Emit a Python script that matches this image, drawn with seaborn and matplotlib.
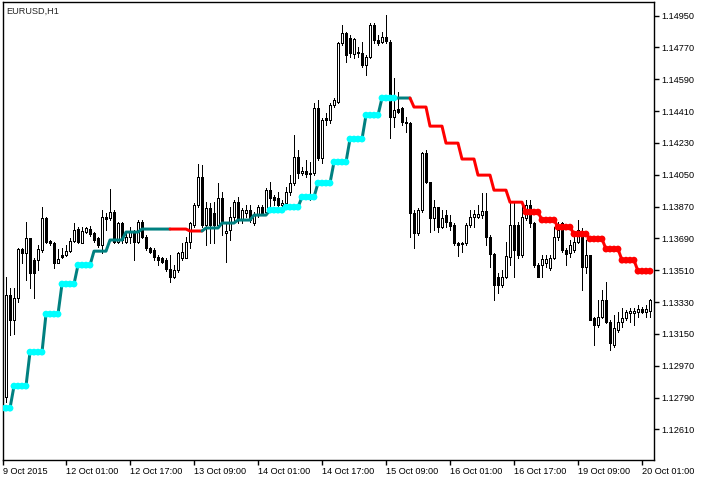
import numpy as np
import pandas as pd
import matplotlib
matplotlib.use("Agg")
import matplotlib.pyplot as plt
import seaborn as sns

# =========================
# Data (EURUSD H1)
# =========================
symbol = "EURUSD,H1"

open_ = [
    1.12849, 1.12793, 1.13370, 1.13228, 1.13353, 1.13630, 1.13607, 1.13692, 1.13568, 1.13568,
    1.13624, 1.13805, 1.13675, 1.13664, 1.13551, 1.13596, 1.13596, 1.13619, 1.13675, 1.13743,
    1.13664, 1.13726, 1.13743, 1.13720, 1.13692, 1.13652, 1.13811, 1.13805, 1.13839, 1.13670,
    1.13777, 1.13670, 1.13698, 1.13726, 1.13670, 1.13782, 1.13698, 1.13635, 1.13624, 1.13585,
    1.13579, 1.13568, 1.13517, 1.13472, 1.13511, 1.13579, 1.13579, 1.13670, 1.13766, 1.13879,
    1.14037, 1.13766, 1.13862, 1.13833, 1.13766, 1.13918, 1.13720, 1.13737, 1.13811, 1.13896,
    1.13794, 1.13833, 1.13850, 1.13777, 1.13822, 1.13867, 1.13839, 1.13964, 1.13924, 1.13918,
    1.13879, 1.13890, 1.13952, 1.14003, 1.14150, 1.14060, 1.14071, 1.14054, 1.14060, 1.14427,
    1.14145, 1.14371, 1.14359, 1.14444, 1.14461, 1.14795, 1.14851, 1.14823, 1.14733, 1.14744,
    1.14738, 1.14670, 1.14716, 1.14897, 1.14812, 1.14800, 1.14829, 1.14800, 1.14376, 1.14422,
    1.14427, 1.14348, 1.14342, 1.13833, 1.13720, 1.13850, 1.14173, 1.14009, 1.13805, 1.13867,
    1.13754, 1.13822, 1.13782, 1.13766, 1.13664, 1.13664, 1.13664, 1.13766, 1.13811, 1.13811,
    1.13822, 1.13845, 1.13698, 1.13602, 1.13472, 1.13426, 1.13472, 1.13585, 1.13766, 1.13766,
    1.13596, 1.13805, 1.13879, 1.13777, 1.13540, 1.13540, 1.13551, 1.13522, 1.13579, 1.13698,
    1.13777, 1.13624, 1.13607, 1.13624, 1.13670, 1.13732, 1.13528, 1.13596, 1.13240, 1.13200,
    1.13245, 1.13342, 1.13217, 1.13087, 1.13172, 1.13217, 1.13240, 1.13268, 1.13268, 1.13274,
    1.13291, 1.13274, 1.13279,
]
high = [
    1.12861, 1.13471, 1.13409, 1.13409, 1.13635, 1.13635, 1.13782, 1.13692, 1.13579, 1.13652,
    1.13867, 1.13811, 1.13681, 1.13670, 1.13630, 1.13635, 1.13652, 1.13692, 1.13777, 1.13754,
    1.13754, 1.13754, 1.13760, 1.13726, 1.13698, 1.13850, 1.13833, 1.13969, 1.13850, 1.13782,
    1.13782, 1.13720, 1.13754, 1.13737, 1.13794, 1.13794, 1.13709, 1.13641, 1.13635, 1.13596,
    1.13585, 1.13579, 1.13596, 1.13540, 1.13613, 1.13664, 1.13698, 1.13782, 1.13890, 1.14111,
    1.14105, 1.13896, 1.13890, 1.13896, 1.14003, 1.13952, 1.13777, 1.13867, 1.13907, 1.13924,
    1.13862, 1.13879, 1.13879, 1.13839, 1.13879, 1.13879, 1.13975, 1.14009, 1.13935, 1.13952,
    1.13907, 1.13981, 1.14048, 1.14274, 1.14190, 1.14094, 1.14133, 1.14122, 1.14456, 1.14473,
    1.14371, 1.14399, 1.14456, 1.14484, 1.14800, 1.14897, 1.14857, 1.14840, 1.14823, 1.14772,
    1.14800, 1.14727, 1.14908, 1.14908, 1.14840, 1.14857, 1.14953, 1.14812, 1.14597, 1.14518,
    1.14433, 1.14376, 1.14348, 1.13850, 1.13862, 1.14178, 1.14190, 1.14009, 1.13907, 1.13867,
    1.13850, 1.13850, 1.13822, 1.13777, 1.13670, 1.13670, 1.13777, 1.13850, 1.13850, 1.13879,
    1.13947, 1.13947, 1.13709, 1.13607, 1.13494, 1.13511, 1.13670, 1.13896, 1.13896, 1.13782,
    1.13890, 1.13907, 1.13907, 1.13782, 1.13551, 1.13596, 1.13596, 1.13596, 1.13754, 1.13782,
    1.13782, 1.13635, 1.13681, 1.13726, 1.13794, 1.13749, 1.13681, 1.13596, 1.13245, 1.13342,
    1.13398, 1.13443, 1.13228, 1.13257, 1.13274, 1.13296, 1.13285, 1.13296, 1.13296, 1.13313,
    1.13302, 1.13313, 1.13347,
]
low = [
    1.12787, 1.12765, 1.13144, 1.13149, 1.13331, 1.13551, 1.13455, 1.13409, 1.13353, 1.13511,
    1.13613, 1.13664, 1.13652, 1.13522, 1.13551, 1.13579, 1.13590, 1.13613, 1.13670, 1.13664,
    1.13664, 1.13720, 1.13703, 1.13670, 1.13641, 1.13607, 1.13737, 1.13794, 1.13664, 1.13664,
    1.13664, 1.13664, 1.13664, 1.13568, 1.13664, 1.13692, 1.13624, 1.13607, 1.13568, 1.13540,
    1.13551, 1.13506, 1.13443, 1.13466, 1.13500, 1.13568, 1.13579, 1.13635, 1.13754, 1.13867,
    1.13754, 1.13652, 1.13664, 1.13664, 1.13749, 1.13709, 1.13556, 1.13681, 1.13777, 1.13777,
    1.13777, 1.13811, 1.13782, 1.13766, 1.13811, 1.13822, 1.13833, 1.13850, 1.13879, 1.13867,
    1.13867, 1.13879, 1.13935, 1.13992, 1.14031, 1.14048, 1.14037, 1.13907, 1.14048, 1.14133,
    1.14116, 1.14331, 1.14342, 1.14433, 1.14456, 1.14784, 1.14687, 1.14716, 1.14710, 1.14716,
    1.14659, 1.14614, 1.14710, 1.14795, 1.14784, 1.14795, 1.14795, 1.14258, 1.14320, 1.14399,
    1.14331, 1.14291, 1.13698, 1.13635, 1.13709, 1.13839, 1.14003, 1.13726, 1.13737, 1.13726,
    1.13749, 1.13754, 1.13737, 1.13652, 1.13590, 1.13613, 1.13652, 1.13754, 1.13754, 1.13805,
    1.13805, 1.13652, 1.13528, 1.13342, 1.13381, 1.13415, 1.13466, 1.13540, 1.13472, 1.13579,
    1.13585, 1.13794, 1.13754, 1.13528, 1.13472, 1.13472, 1.13528, 1.13511, 1.13573, 1.13681,
    1.13613, 1.13540, 1.13585, 1.13613, 1.13664, 1.13398, 1.13494, 1.13228, 1.13087, 1.13189,
    1.13240, 1.13211, 1.13059, 1.13076, 1.13160, 1.13189, 1.13228, 1.13217, 1.13200, 1.13245,
    1.13268, 1.13245, 1.13245,
]
close = [
    1.12793, 1.13370, 1.13228, 1.13353, 1.13630, 1.13607, 1.13692, 1.13494, 1.13494, 1.13630,
    1.13805, 1.13670, 1.13664, 1.13551, 1.13573, 1.13585, 1.13619, 1.13675, 1.13737, 1.13670,
    1.13732, 1.13749, 1.13715, 1.13681, 1.13652, 1.13811, 1.13800, 1.13839, 1.13670, 1.13777,
    1.13681, 1.13698, 1.13726, 1.13670, 1.13782, 1.13698, 1.13635, 1.13613, 1.13585, 1.13568,
    1.13556, 1.13517, 1.13472, 1.13511, 1.13607, 1.13613, 1.13670, 1.13777, 1.13879, 1.14037,
    1.13766, 1.13862, 1.13766, 1.13766, 1.13918, 1.13777, 1.13732, 1.13811, 1.13896, 1.13794,
    1.13850, 1.13850, 1.13794, 1.13822, 1.13867, 1.13833, 1.13964, 1.13918, 1.13907, 1.13879,
    1.13890, 1.13952, 1.14003, 1.14150, 1.14060, 1.14071, 1.14054, 1.14060, 1.14427, 1.14145,
    1.14359, 1.14359, 1.14444, 1.14473, 1.14795, 1.14851, 1.14727, 1.14738, 1.14817, 1.14738,
    1.14670, 1.14716, 1.14897, 1.14812, 1.14795, 1.14829, 1.14806, 1.14376, 1.14416, 1.14405,
    1.14348, 1.14342, 1.13833, 1.13720, 1.13850, 1.14173, 1.14009, 1.13805, 1.13867, 1.13754,
    1.13805, 1.13782, 1.13760, 1.13664, 1.13652, 1.13658, 1.13766, 1.13811, 1.13828, 1.13828,
    1.13845, 1.13698, 1.13602, 1.13426, 1.13426, 1.13472, 1.13590, 1.13766, 1.13624, 1.13596,
    1.13811, 1.13879, 1.13777, 1.13540, 1.13472, 1.13573, 1.13573, 1.13579, 1.13698, 1.13737,
    1.13624, 1.13602, 1.13652, 1.13670, 1.13737, 1.13528, 1.13596, 1.13228, 1.13200, 1.13245,
    1.13342, 1.13217, 1.13098, 1.13183, 1.13217, 1.13240, 1.13274, 1.13279, 1.13279, 1.13291,
    1.13274, 1.13291, 1.13342,
]

# step indicator, one value per H4 period
step_level = [
    1.12730, 1.12855, 1.13047, 1.13262, 1.13432, 1.13539, 1.13618, 1.13681, 1.13726, 1.13743,
    1.13743, 1.13743, 1.13732, 1.13749, 1.13777, 1.13794, 1.13822, 1.13850, 1.13867, 1.13924,
    1.14003, 1.14122, 1.14252, 1.14387, 1.14484, 1.14484, 1.14433, 1.14325, 1.14229, 1.14139,
    1.14048, 1.13963, 1.13895, 1.13839, 1.13794, 1.13754, 1.13715, 1.13687, 1.13630, 1.13567,
    1.13505,
]
step_trend = (["up"] * 11 + ["down"] * 2 + ["up"] * 13 + ["down"] * 15)
step_dots = ([1] * 6 + [0] * 11 + [1] * 8 + [0] * 8 + [1] * 8)

y_ticks = [1.12610, 1.12790, 1.12970, 1.13150, 1.13330, 1.13510, 1.13690,
           1.13870, 1.14050, 1.14230, 1.14410, 1.14590, 1.14770, 1.14950]
x_tick_labels = ["12 Oct 01:00", "12 Oct 17:00", "13 Oct 09:00", "14 Oct 01:00",
                 "14 Oct 17:00", "15 Oct 09:00", "16 Oct 01:00", "16 Oct 17:00",
                 "19 Oct 09:00", "20 Oct 01:00"]

# =========================
# Build frame
# =========================
times = pd.date_range("2015-10-09 09:00", "2015-10-20 03:00", freq="h")
times = times[times.dayofweek < 5]

df = pd.DataFrame({"time": times, "open": open_, "high": high,
                   "low": low, "close": close})
df["bar"] = np.arange(len(df))
step_idx = pd.factorize(df["time"].dt.floor("4h"))[0]
df["level"] = np.array(step_level)[step_idx]
df["trend"] = np.array(step_trend)[step_idx]
df["dot"] = np.array(step_dots)[step_idx]

# =========================
# Style
# =========================
sns.set_style("white")
plt.rcParams["font.family"] = ["Liberation Sans", "DejaVu Sans"]

fig = plt.figure(figsize=(7.06, 4.80), dpi=100)
ax = fig.add_axes([3 / 706, 20 / 480, 651 / 706, 458 / 480])

PX = 0.72  # one pixel in points at 100 dpi

# ---- candles ----
bull = df["close"] >= df["open"]
ax.vlines(df["bar"], df["low"], df["high"], color="black", lw=PX,
          zorder=2, antialiased=False)
body_lo = np.minimum(df["open"], df["close"])
body_h = np.maximum(np.abs(df["close"] - df["open"]), 0.00002)
ax.bar(df["bar"], body_h, bottom=body_lo, width=0.5,
       color=np.where(bull, "white", "black"), edgecolor="black",
       linewidth=PX, zorder=2.5, antialiased=False)

# ---- step line, coloured by trend ----
line_colors = {"up": "#008080", "down": "#ff0000"}
dot_colors = {"up": "#00ffff", "down": "#ff0000"}
run_id = (df["trend"] != df["trend"].shift()).cumsum()
for rid, part in df.groupby(run_id):
    start = max(part.index[0] - 1, 0)
    seg = df.loc[start:part.index[-1]]
    sns.lineplot(data=seg, x="bar", y="level", color=line_colors[part["trend"].iloc[0]],
                 lw=3 * PX, estimator=None, sort=False, ax=ax, zorder=3)

dots = df[df["dot"] == 1]
sns.scatterplot(data=dots, x="bar", y="level", hue="trend", palette=dot_colors,
                s=24, linewidth=0, legend=False, ax=ax, zorder=4)

# ---- axes ----
ax.set_xlim(0.25, 163)
ax.set_ylim(1.12437, 1.15027)
ax.set_xlabel("")
ax.set_ylabel("")

ax.yaxis.tick_right()
ax.set_yticks(y_ticks)
ax.set_yticklabels([f"{v:.5f}" for v in y_ticks])
ax.tick_params(axis="y", direction="out", length=3.5, width=1, pad=1.5,
               labelsize=6.6, colors="black", left=False, right=True)

fmt = df["time"].apply(lambda t: f"{t.day} {t:%b %H:%M}")
tick_pos = [0.25] + [int(df.loc[fmt == lab, "bar"].iloc[0]) for lab in x_tick_labels]
ax.set_xticks(tick_pos)
ax.set_xticklabels(["9 Oct 2015"] + x_tick_labels, ha="left")
ax.tick_params(axis="x", direction="out", length=3.5, width=1, pad=1.5,
               labelsize=6.6, colors="black", bottom=True)

for sp in ax.spines.values():
    sp.set_visible(True)
    sp.set_color("black")
    sp.set_linewidth(1)

fig.text(6 / 706, 1 - 11 / 480, symbol, fontsize=6.6, ha="left", va="center")

fig.savefig("out.png", dpi=100, facecolor="white")
plt.close(fig)
